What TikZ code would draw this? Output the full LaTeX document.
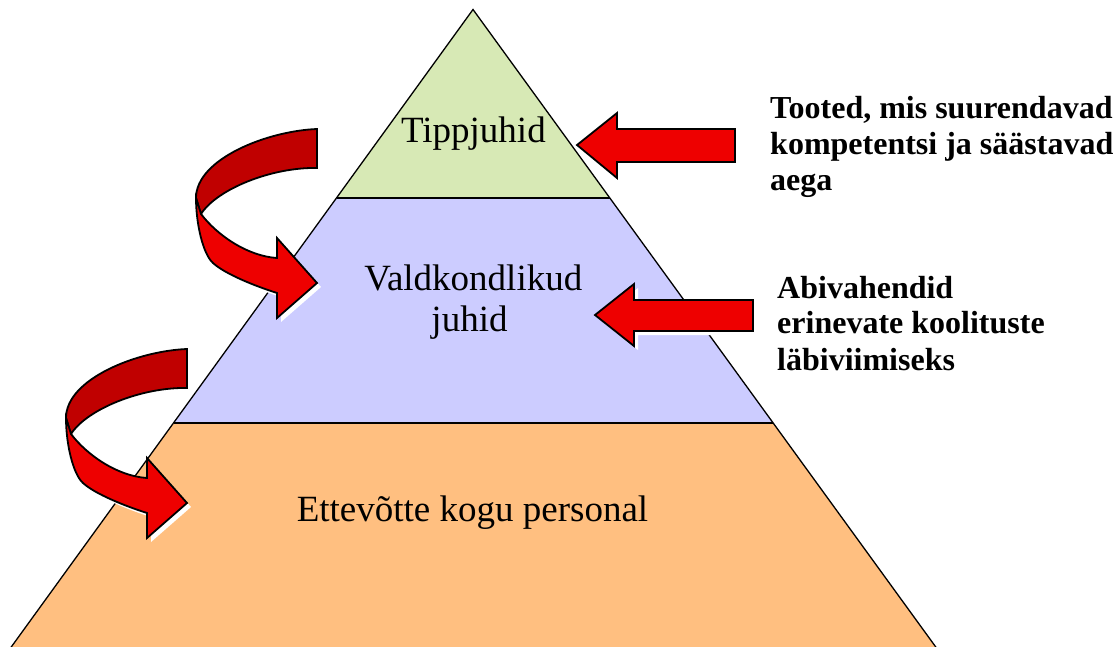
\documentclass[tikz,border=0pt]{standalone}
\usepackage{fontspec}
\setmainfont{Liberation Serif}
\definecolor{topgreen}{RGB}{215,233,181}
\definecolor{midlav}{RGB}{204,204,255}
\definecolor{botorange}{RGB}{255,191,128}
\definecolor{darkred}{RGB}{192,0,0}
\definecolor{brightred}{RGB}{238,0,0}
\tikzset{
  edge/.style={draw=black,line width=1.3pt},
  arrowbody/.style={fill=brightred,draw=black,line width=1.8pt},
  arrowback/.style={fill=darkred,draw=black,line width=1.8pt},
  arrowshadow/.style={fill=white,draw=none},
  lvl/.style={font=\fontsize{37}{41}\selectfont,inner sep=0pt,anchor=base},
  side/.style={font=\fontsize{32}{36}\selectfont\bfseries,inner sep=0pt,anchor=base west},
  curvarrow/.pic={
    \fill[arrowshadow,shift={(4,4)}] (-121,69) -- (-116,85)
      .. controls (-100,106) and (-70,127) .. (-40,129)
      -- (-40,109) -- (0,154) -- (-40,189) -- (-40,164)
      .. controls (-62,157) and (-92,145) .. (-104,134)
      .. controls (-114,125) and (-121,95) .. (-121,69) -- cycle;
    \path[arrowback] (0,0) .. controls (-50,2) and (-121,30) .. (-121,69)
      -- (-116,85) .. controls (-100,60) and (-45,38) .. (0,39) -- cycle;
    \path[arrowbody] (-121,69) -- (-116,85)
      .. controls (-100,106) and (-70,127) .. (-40,129)
      -- (-40,109) -- (0,154) -- (-40,189) -- (-40,164)
      .. controls (-62,157) and (-92,145) .. (-104,134)
      .. controls (-114,125) and (-121,95) .. (-121,69) -- cycle;
  }
}
\begin{document}
\begin{tikzpicture}[x=1pt,y=-1pt]
\useasboundingbox (0,0) rectangle (1118,646);
\clip (0,0) rectangle (1118,646);
% pyramid coordinates
\coordinate (apex) at (473,9.5);
\coordinate (l1) at (336.5,198);
\coordinate (r1) at (609.8,198);
\coordinate (l2) at (173.5,423);
\coordinate (r2) at (773.2,423);
\coordinate (lb) at (10.5,648);
\coordinate (rb) at (936.5,648);
% bands
\fill[topgreen] (apex) -- (r1) -- (l1) -- cycle;
\fill[midlav] (l1) -- (r1) -- (r2) -- (l2) -- cycle;
\fill[botorange] (l2) -- (r2) -- (rb) -- (lb) -- cycle;
\draw[edge] (lb) -- (apex) -- (rb);
\draw[edge] (l1) -- (r1);
\draw[edge] (l2) -- (r2);
% level texts
\node[lvl] (tipp) at (473.4,142.7) {Tippjuhid};
\node[lvl] (vald) at (473.3,290) {Valdkondlikud};
\node[lvl] (juhid) at (469.5,331) {juhid};
\node[lvl] (ette) at (472.5,521.7) {Ettevõtte kogu personal};
% right texts
\node[side] (t1) at (770,118.3) {Tooted, mis suurendavad};
\node[side] (t2) at (770,154.3) {kompetentsi ja säästavad};
\node[side] (t3) at (770,190.8) {aega};
\node[side] (a1) at (777,298.3) {Abivahendid};
\node[side] (a2) at (777,333.8) {erinevate koolituste};
\node[side] (a3) at (777,370) {läbiviimiseks};
% straight arrows
\fill[arrowshadow,shift={(4,4)}] (577,145) -- (617,113) -- (617,129) -- (735,129) -- (735,162) -- (617,162) -- (617,178) -- cycle;
\path[arrowbody] (577,145) -- (617,113) -- (617,129) -- (735,129) -- (735,162) -- (617,162) -- (617,178) -- cycle;
\fill[arrowshadow,shift={(4,4)}] (595,315) -- (634,284) -- (634,300) -- (753,300) -- (753,331) -- (634,331) -- (634,346) -- cycle;
\path[arrowbody] (595,315) -- (634,284) -- (634,300) -- (753,300) -- (753,331) -- (634,331) -- (634,346) -- cycle;
% curved arrows
\pic at (317,129) {curvarrow};
\pic at (187,349) {curvarrow};
\end{tikzpicture}
\end{document}
